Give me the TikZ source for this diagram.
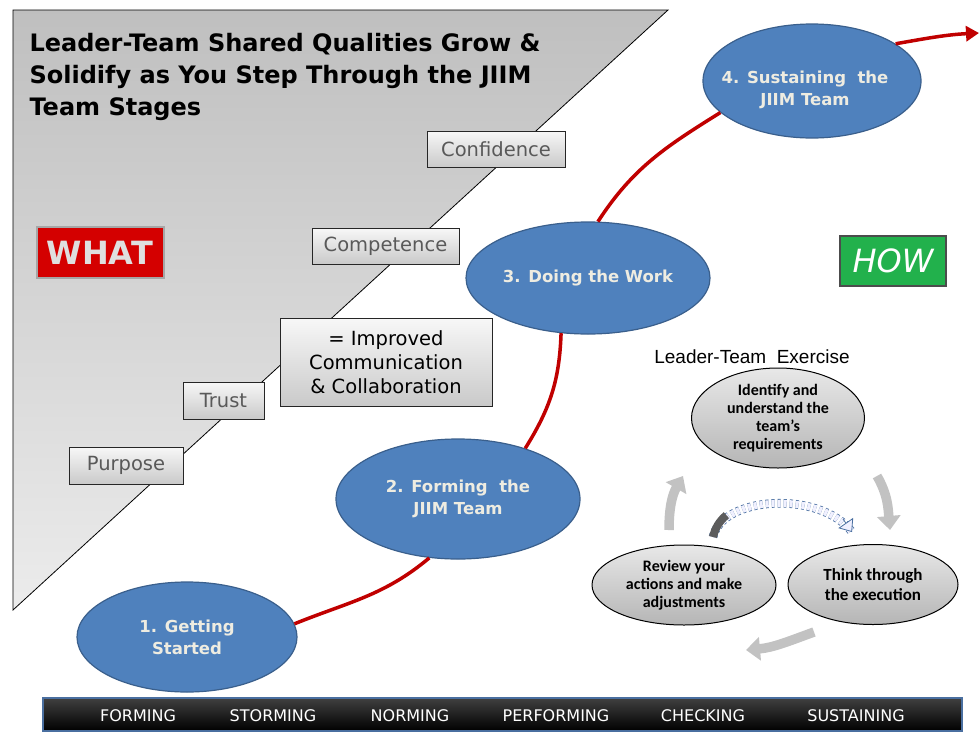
\documentclass[tikz,border=0pt]{standalone}
\usepackage{fontspec}
\setmainfont{DejaVu Sans}
\newfontfamily\arialfont{Liberation Sans}
\newfontfamily\calfont{Carlito}
\usepackage{tikz}
\usepackage{xcolor}
\usetikzlibrary{shapes.geometric, arrows.meta, positioning}

\definecolor{stageblue}{HTML}{4F81BD}
\definecolor{stageedge}{HTML}{3A5F8C}
\definecolor{stagetext}{HTML}{EEECE1}
\definecolor{pathred}{HTML}{C00000}
\definecolor{whatred}{HTML}{D40000}
\definecolor{howgreen}{HTML}{22B14C}
\definecolor{swoopblue}{HTML}{4A6FA0}

\tikzstyle{quality} = [rectangle, draw=black!85, line width=1pt, top color=gray!6, bottom color=gray!42, text=black!65, font=\fontsize{19.5}{24}\selectfont, minimum height=36pt, inner sep=0pt]
\tikzstyle{stage} = [ellipse, draw=stageedge, line width=1.2pt, fill=stageblue, text=stagetext, font=\bfseries\fontsize{16.5}{22}\selectfont, align=center, inner sep=0pt]
\tikzstyle{exstep} = [ellipse, draw=black, line width=1pt, top color=gray!18, bottom color=gray!58, align=center, inner sep=0pt]
\tikzstyle{redpath} = [pathred, line width=3.5pt]
\tikzstyle{cyclearrow} = [gray!48, line width=9.5pt, -{Triangle[length=14pt, width=23pt]}]
\tikzstyle{stagelabel} = [text=white, font=\fontsize{16}{18}\selectfont]

\begin{document}
\begin{tikzpicture}[x=1pt, y=1pt]
  \useasboundingbox (0,0) rectangle (979,-731);

  % Grey wedge behind the qualities
  \path[draw=black, line width=0.8pt, top color=gray!50, bottom color=gray!15] (13,-10) -- (668,-10) -- (13,-610) -- cycle;

  % Title
  \node (title) [anchor=north west, align=left, font=\bfseries\fontsize{24}{32}\selectfont] at (26,-30) {Leader-Team Shared Qualities Grow \&\\Solidify as You Step Through the JIIM\\Team Stages};

  % Shared qualities
  \node (confidence) [quality, minimum width=138pt] at (496,-149) {Confidence};
  \node (competence) [quality, minimum width=147pt] at (385.5,-246) {Competence};
  \node (improved) [quality, minimum width=212pt, minimum height=88pt, text=black, align=center] at (386,-362) {= Improved\\Communication\\\& Collaboration};
  \node (trust) [quality, minimum width=81pt, minimum height=37pt] at (223.5,-400.5) {Trust};
  \node (purpose) [quality, minimum width=114pt, minimum height=37pt] at (126,-465.5) {Purpose};

  % Buttons
  \node (what) [rectangle, draw=gray!70, line width=2pt, fill=whatred, minimum width=127pt, minimum height=51pt, text=gray!25, font=\bfseries\fontsize{32}{34}\selectfont] at (100,-252.5) {WHAT};
  \node (how) [rectangle, draw=black!70, line width=1.5pt, fill=howgreen, minimum width=106pt, minimum height=50pt, text=white, font=\itshape\fontsize{32}{34}\selectfont] at (893,-261) {HOW};

  % Team stages
  \node (getting) [stage, minimum width=220pt, minimum height=110pt] at (187,-637) {};
  \node (forming) [stage, minimum width=244pt, minimum height=120pt] at (458,-499) {};
  \node (doing) [stage, minimum width=244pt, minimum height=112pt] at (588,-278) {};
  \node (sustaining) [stage, minimum width=218pt, minimum height=114pt] at (812,-81) {};
  \coordinate (pathend) at (979,-33);

  % Red path through the stages
  \draw [redpath] (getting.7) to[out=22, in=-140] (forming.-116);
  \draw [redpath] (forming.37) to[out=58, in=-92] (doing.-116);
  \draw [redpath] (doing.80) to[out=57, in=-148] (sustaining.-161);
  \draw [redpath, -{Triangle[length=13pt, width=15pt]}] (sustaining.24) to[out=10, in=183] (pathend);

  % Stage labels
  \node (getting-lbl) [stage, draw=none, fill=none] at (187,-637) {1. Getting\\Started};
  \node (forming-lbl) [stage, draw=none, fill=none] at (458,-499) {2. Forming\ \ the\\JIIM Team};
  \node (doing-lbl) [stage, draw=none, fill=none] at (588,-278) {3. Doing the Work};
  \node (sustaining-lbl) [stage, draw=none, fill=none] at (805,-90) {4. Sustaining\ \ the\\JIIM Team};

  % Leader-Team exercise
  \node (identify) [exstep, minimum width=173pt, minimum height=100pt, font=\calfont\bfseries\fontsize{16}{18}\selectfont] at (778,-418) {Identify and\\understand the\\team’s\\requirements};
  \node (exercise) [above=0pt of identify, xshift=-26pt, font=\arialfont\fontsize{19}{20}\selectfont] {Leader-Team\ \ Exercise};
  \node (think) [exstep, minimum width=170pt, minimum height=80pt, font=\calfont\bfseries\fontsize{17}{20}\selectfont] at (873,-584.5) {Think through\\the execution};
  \node (review) [exstep, minimum width=184pt, minimum height=80pt, font=\calfont\bfseries\fontsize{16}{18}\selectfont] at (684,-585) {Review your\\actions and make\\adjustments};

  % Cycle arrows
  \coordinate (c1a) at (877,-476);
  \coordinate (c1b) at (890,-530);
  \coordinate (c2a) at (814,-632);
  \coordinate (c2b) at (746,-650);
  \coordinate (c3a) at (669,-530);
  \coordinate (c3b) at (683,-476);
  \draw [cyclearrow] (c1a) to[out=-60, in=95] (c1b);
  \draw [cyclearrow] (c2a) to[out=-160, in=5] (c2b);
  \draw [cyclearrow] (c3a) to[out=90, in=-120] (c3b);

  % Swoop from review to think
  \coordinate (swstart) at (713,-537);
  \coordinate (swend) at (852,-532);
  \draw [dashed, draw=swoopblue, line width=0.8pt, double=blue!6, double distance=7pt] (swstart) .. controls (722,-496) and (820,-490) .. (swend);
  \draw [gray!40!black!80, line width=8pt] (swstart) .. controls (714.8,-528.8) and (719.4,-520.8) .. (726.4,-515.2);
  \draw [draw=swoopblue, line width=0.8pt, -{Triangle[open, fill=blue!6, length=11pt, width=18pt]}] (843,-519) -- (swend);

  % Stage bar
  \node (stagebar) [rectangle, draw=swoopblue, line width=1.5pt, top color=black!75, bottom color=black, minimum width=919pt, minimum height=33pt] at (502.5,-714.5) {};
  \foreach \lbl/\xx in {FORMING/138, STORMING/273, NORMING/410, PERFORMING/556, CHECKING/703, SUSTAINING/856}
    \node (st-\lbl) [stagelabel] at (\xx,-716) {\lbl};

\end{tikzpicture}
\end{document}
